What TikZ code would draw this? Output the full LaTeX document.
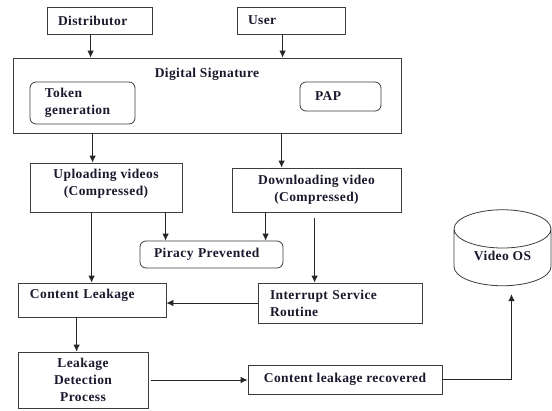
\documentclass[tikz,border=0pt]{standalone}
\usepackage{fontspec}
\setmainfont{Liberation Serif}[LetterSpace=3]
\usepackage{tikz}
\usetikzlibrary{shapes.geometric,arrows.meta,positioning}
\definecolor{boxc}{RGB}{60,60,60}
\definecolor{txtc}{RGB}{25,25,45}

\begin{document}
\begin{tikzpicture}[x=1pt,y=-1pt,
    font=\bfseries\fontsize{13.5}{17}\selectfont,
    box/.style={draw=boxc, line width=0.8pt, inner ysep=0pt, text=txtc},
    lft/.style={box, align=left},
    ctr/.style={box, align=center},
    rbox/.style={lft, rounded corners=6pt},
    arr/.style={draw=black!85, line width=0.8pt, -{Latex[length=7pt,width=6.5pt]}}]
      \useasboundingbox (0,0) rectangle (552,410);
      % top row
      \node[lft, inner xsep=11pt, text width=83pt, minimum height=27pt] (dist) at (99.5,20.5) {Distributor};
      \node[lft, inner xsep=11pt, text width=86pt, minimum height=27pt] (user) at (291,20.5) {User};
      % signature block
      \node[box, minimum width=388pt, minimum height=75pt] (ds) at (207,95.5) {};
      \node[text=txtc, inner sep=0pt, below=10pt of ds.north] (dstitle) {Digital Signature};
      \node[rbox, inner xsep=15pt, text width=75pt, minimum height=42pt] (tok) at (82.5,103) {Token\\generation};
      \node[rbox, inner xsep=15pt, text width=51pt, minimum height=29pt] (pap) at (340.5,96.5) {PAP};
      % videos
      \node[ctr, minimum width=152pt, minimum height=49pt, text depth=10pt] (up) at (106,187.5) {Uploading videos\\(Compressed)};
      \node[ctr, minimum width=169pt, minimum height=44pt] (dn) at (316.5,190) {Downloading video\\(Compressed)};
      \node[rbox, inner xsep=14pt, text width=115pt, minimum height=27pt] (pir) at (211.5,254.5) {Piracy Prevented};
      \node[lft, inner xsep=12pt, text width=124pt, minimum height=34pt, text depth=12pt] (cl) at (92,300) {Content Leakage};
      \node[lft, inner xsep=12pt, text width=140pt, minimum height=40pt] (isr) at (340,303) {Interrupt Service\\Routine};
      \node[ctr, minimum width=130pt, minimum height=56pt] (ldp) at (83,380) {Leakage\\Detection\\Process};
      \node[ctr, minimum width=194pt, minimum height=29pt] (clr) at (345,379.5) {Content leakage recovered};
      \node[box, cylinder, shape border rotate=90, aspect=0.6, minimum width=97pt, minimum height=76pt, text depth=10pt] (vos) at (502.5,261) {Video OS};
      % connectors
      \draw[arr] ([xshift=44pt]dist.south west) -- ([xshift=44pt]dist.south west |- ds.north);
      \draw[arr] ([xshift=46pt]user.south west) -- ([xshift=46pt]user.south west |- ds.north);
      \draw[arr] ([xshift=80pt]ds.south west) -- ([xshift=80pt]ds.south west |- up.north);
      \draw[arr] ([xshift=269pt]ds.south west) -- ([xshift=269pt]ds.south west |- dn.north);
      \draw[arr] ([xshift=26pt]pir.north west |- up.south) -- ([xshift=26pt]pir.north west);
      \draw[arr] ([xshift=126pt]pir.north west |- dn.south) -- ([xshift=126pt]pir.north west);
      \draw[arr] ([xshift=57pt,yshift=-6pt]isr.north west |- dn.south) -- ([xshift=57pt]isr.north west);
      \draw[arr] ([xshift=62pt]up.south west) -- ([xshift=62pt]up.south west |- cl.north);
      \draw[arr] (isr.west) -- (isr.west -| cl.east);
      \draw[arr] ([xshift=59pt]cl.south west) -- ([xshift=59pt]cl.south west |- ldp.north);
      \draw[arr] ([xshift=3pt]ldp.east) -- (ldp.east -| clr.west);
      \draw[arr] (clr.east) -| ([xshift=9pt,yshift=-8pt]vos.south);
\end{tikzpicture}
\end{document}
